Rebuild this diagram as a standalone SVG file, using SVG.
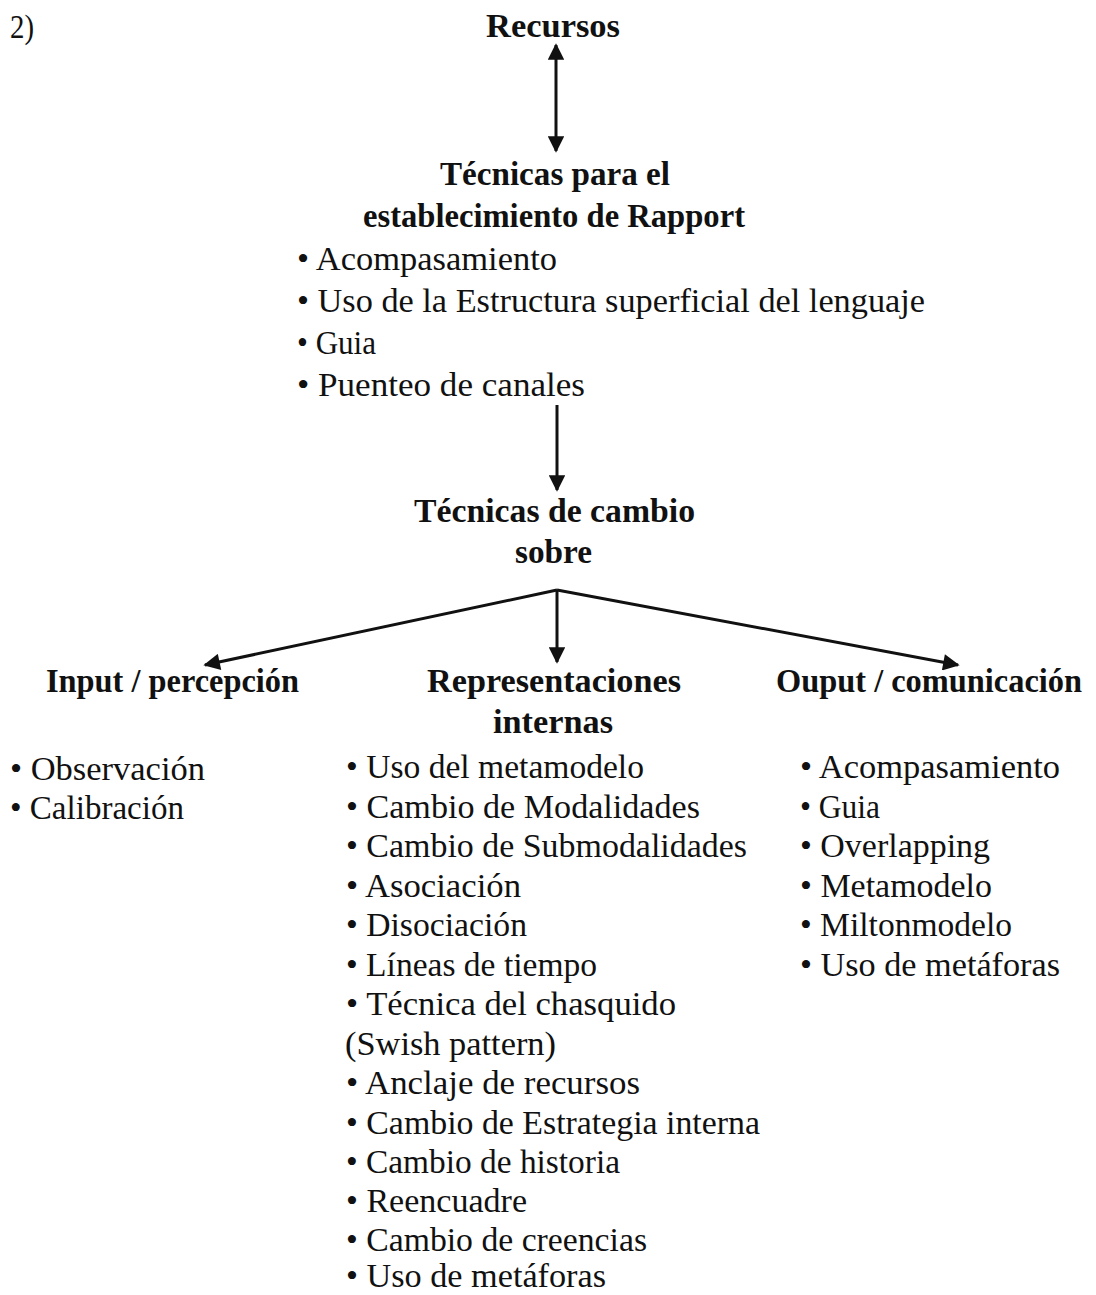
<svg xmlns="http://www.w3.org/2000/svg" width="1096" height="1295" viewBox="0 0 1096 1295">
<style>
text{font-family:"Liberation Serif","Times New Roman",serif;fill:#111;}
.h{font-weight:bold;font-size:34px;}
.b{font-size:34px;}
.c{text-anchor:middle;}
.con{stroke:#111;stroke-width:3;fill:none;}
</style>
<defs>
<marker id="ah" viewBox="0 0 10 10" refX="9" refY="5" markerWidth="6" markerHeight="5.5" orient="auto-start-reverse" markerUnits="strokeWidth">
<path d="M0,0 L10,5 L0,10 z" fill="#111"/>
</marker>
</defs>
<rect width="1096" height="1295" fill="#fff"/>
<text x="10" y="38" class="b" textLength="24" lengthAdjust="spacingAndGlyphs">2)</text>

<g id="connectors">
<line class="con" x1="556" y1="45" x2="556" y2="151" marker-start="url(#ah)" marker-end="url(#ah)"/>
<line class="con" x1="557" y1="405" x2="557" y2="490" marker-end="url(#ah)"/>
<line class="con" x1="557" y1="590" x2="557" y2="662" marker-end="url(#ah)"/>
<line class="con" x1="557" y1="590" x2="205" y2="665" marker-end="url(#ah)"/>
<line class="con" x1="557" y1="590" x2="958" y2="665" marker-end="url(#ah)"/>
</g>

<g id="recursos">
<text class="h" x="486" y="37" textLength="134" lengthAdjust="spacingAndGlyphs">Recursos</text>
</g>

<g id="rapport">
<text class="h" x="440" y="185" textLength="230" lengthAdjust="spacingAndGlyphs">Técnicas para el</text>
<text class="h" x="363" y="227" textLength="382" lengthAdjust="spacingAndGlyphs">establecimiento de Rapport</text>
<text class="b" x="297" y="270" textLength="260" lengthAdjust="spacingAndGlyphs">• Acompasamiento</text>
<text class="b" x="297" y="312" textLength="628" lengthAdjust="spacingAndGlyphs">• Uso de la Estructura superficial del lenguaje</text>
<text class="b" x="297" y="354" textLength="79" lengthAdjust="spacingAndGlyphs">• Guia</text>
<text class="b" x="297" y="396" textLength="288" lengthAdjust="spacingAndGlyphs">• Puenteo de canales</text>
</g>

<g id="cambio">
<text class="h" x="414" y="522" textLength="281" lengthAdjust="spacingAndGlyphs">Técnicas de cambio</text>
<text class="h" x="515" y="563" textLength="77" lengthAdjust="spacingAndGlyphs">sobre</text>
</g>

<g id="input">
<text class="h" x="46" y="692" textLength="253" lengthAdjust="spacingAndGlyphs">Input / percepción</text>
<text class="b" x="10" y="780" textLength="195" lengthAdjust="spacingAndGlyphs">• Observación</text>
<text class="b" x="10" y="819" textLength="174" lengthAdjust="spacingAndGlyphs">• Calibración</text>
</g>

<g id="representaciones">
<text class="h" x="427" y="692" textLength="254" lengthAdjust="spacingAndGlyphs">Representaciones</text>
<text class="h" x="493" y="733" textLength="120" lengthAdjust="spacingAndGlyphs">internas</text>
<text class="b" x="346" y="778" textLength="298" lengthAdjust="spacingAndGlyphs">• Uso del metamodelo</text>
<text class="b" x="346" y="818" textLength="354" lengthAdjust="spacingAndGlyphs">• Cambio de Modalidades</text>
<text class="b" x="346" y="857" textLength="401" lengthAdjust="spacingAndGlyphs">• Cambio de Submodalidades</text>
<text class="b" x="346" y="897" textLength="175" lengthAdjust="spacingAndGlyphs">•  Asociación</text>
<text class="b" x="346" y="936" textLength="181" lengthAdjust="spacingAndGlyphs">• Disociación</text>
<text class="b" x="346" y="976" textLength="251" lengthAdjust="spacingAndGlyphs">• Líneas de tiempo</text>
<text class="b" x="346" y="1015" textLength="330" lengthAdjust="spacingAndGlyphs">•  Técnica del chasquido</text>
<text class="b" x="345" y="1055" textLength="211" lengthAdjust="spacingAndGlyphs">(Swish pattern)</text>
<text class="b" x="346" y="1094" textLength="294" lengthAdjust="spacingAndGlyphs">•  Anclaje de recursos</text>
<text class="b" x="346" y="1134" textLength="414" lengthAdjust="spacingAndGlyphs">• Cambio de Estrategia interna</text>
<text class="b" x="346" y="1173" textLength="274" lengthAdjust="spacingAndGlyphs">• Cambio de historia</text>
<text class="b" x="346" y="1212" textLength="181" lengthAdjust="spacingAndGlyphs">• Reencuadre</text>
<text class="b" x="346" y="1251" textLength="301" lengthAdjust="spacingAndGlyphs">• Cambio de creencias</text>
<text class="b" x="346" y="1287" textLength="260" lengthAdjust="spacingAndGlyphs">•  Uso de metáforas</text>
</g>

<g id="output">
<text class="h" x="776" y="692" textLength="306" lengthAdjust="spacingAndGlyphs">Ouput / comunicación</text>
<text class="b" x="800" y="778" textLength="260" lengthAdjust="spacingAndGlyphs">• Acompasamiento</text>
<text class="b" x="800" y="818" textLength="80" lengthAdjust="spacingAndGlyphs">• Guia</text>
<text class="b" x="800" y="857" textLength="190" lengthAdjust="spacingAndGlyphs">• Overlapping</text>
<text class="b" x="800" y="897" textLength="192" lengthAdjust="spacingAndGlyphs">• Metamodelo</text>
<text class="b" x="800" y="936" textLength="212" lengthAdjust="spacingAndGlyphs">• Miltonmodelo</text>
<text class="b" x="800" y="976" textLength="260" lengthAdjust="spacingAndGlyphs">• Uso de metáforas</text>
</g>
</svg>
